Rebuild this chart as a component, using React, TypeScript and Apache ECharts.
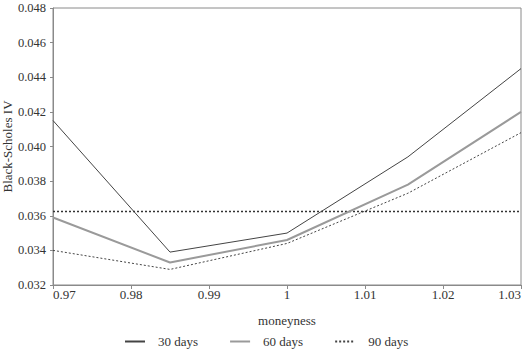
import React, { useEffect, useRef } from "react";
import * as echarts from "echarts";

// Moneyness grid shared by all maturities
const moneyness = [0.97, 0.985, 1.0, 1.0155, 1.03];

// Black-Scholes implied volatility per maturity
const iv30 = [0.0415, 0.0339, 0.035, 0.0394, 0.0445];
const iv60 = [0.0359, 0.0333, 0.0346, 0.0378, 0.042];
const iv90 = [0.034, 0.0329, 0.0344, 0.0373, 0.0408];

// Flat reference level, spanning the moneyness range
const flatX = [0.97, 1.03];
const flatLevel = 0.03625;

const seriesNames = ["30 days", "60 days", "90 days"];

const FONT = "'Liberation Serif', 'Times New Roman', serif";

const pairs = (xs: number[], ys: number[]) => xs.map((x, i) => [x, ys[i]]);

export default function App() {
  const ref = useRef<HTMLDivElement>(null);

  useEffect(() => {
    document.body.style.margin = "0";
    if (!ref.current) return;
    const chart = echarts.init(ref.current, null, { renderer: "svg" });
    chart.setOption({
      animation: false,
      backgroundColor: "#ffffff",
      textStyle: { fontFamily: FONT },
      grid: {
        left: 53,
        right: 2,
        top: 8,
        bottom: 75,
        outerBoundsMode: "none",
        containLabel: false,
        show: true,
        borderColor: "#8a8a8a",
        borderWidth: 1,
      },
      legend: {
        top: 330,
        left: 119,
        itemWidth: 20,
        itemHeight: 10,
        itemGap: 31,
        itemStyle: { opacity: 0 },
        textStyle: {
          fontFamily: FONT,
          fontSize: 13,
          color: "#333",
          padding: [0, 0, 0, 8],
        },
        data: seriesNames,
      },
      xAxis: {
        type: "value",
        min: 0.97,
        max: 1.03,
        interval: 0.01,
        name: "moneyness",
        nameLocation: "middle",
        nameGap: 29,
        nameMoveOverlap: false,
        nameTextStyle: { fontFamily: FONT, fontSize: 13, color: "#333" },
        splitLine: { show: false },
        axisLine: { lineStyle: { color: "#8a8a8a" } },
        axisTick: { length: 4, lineStyle: { color: "#8a8a8a" } },
        axisLabel: {
          fontFamily: FONT,
          fontSize: 13,
          color: "#333",
          margin: 3,
          alignMinLabel: "left",
          alignMaxLabel: "right",
          formatter: (v: number) => String(parseFloat(v.toFixed(2))),
        },
      },
      yAxis: {
        type: "value",
        min: 0.032,
        max: 0.048,
        interval: 0.002,
        name: "Black-Scholes IV",
        nameLocation: "middle",
        nameGap: 39,
        nameMoveOverlap: false,
        nameTextStyle: { fontFamily: FONT, fontSize: 13, color: "#333" },
        splitLine: { show: false },
        axisLine: { show: true, lineStyle: { color: "#8a8a8a" } },
        axisTick: { show: true, length: 3, lineStyle: { color: "#8a8a8a" } },
        axisLabel: {
          fontFamily: FONT,
          fontSize: 12.5,
          color: "#333",
          margin: 7,
          formatter: (v: number) => v.toFixed(3),
        },
      },
      series: [
        {
          name: "flat",
          type: "line",
          data: pairs(flatX, [flatLevel, flatLevel]),
          symbol: "none",
          silent: true,
          lineStyle: { color: "#333", width: 1.5, type: [2, 2] },
        },
        {
          name: seriesNames[0],
          type: "line",
          data: pairs(moneyness, iv30),
          symbol: "none",
          lineStyle: { color: "#444", width: 1 },
          itemStyle: { color: "#444" },
        },
        {
          name: seriesNames[1],
          type: "line",
          data: pairs(moneyness, iv60),
          symbol: "none",
          lineStyle: { color: "#9a9a9a", width: 2 },
          itemStyle: { color: "#9a9a9a" },
        },
        {
          name: seriesNames[2],
          type: "line",
          data: pairs(moneyness, iv90),
          symbol: "none",
          lineStyle: { color: "#444", width: 1, type: [2, 2] },
          itemStyle: { color: "#444" },
        },
      ],
    });
    return () => chart.dispose();
  }, []);

  return <div ref={ref} style={{ width: 523, height: 360 }} />;
}
